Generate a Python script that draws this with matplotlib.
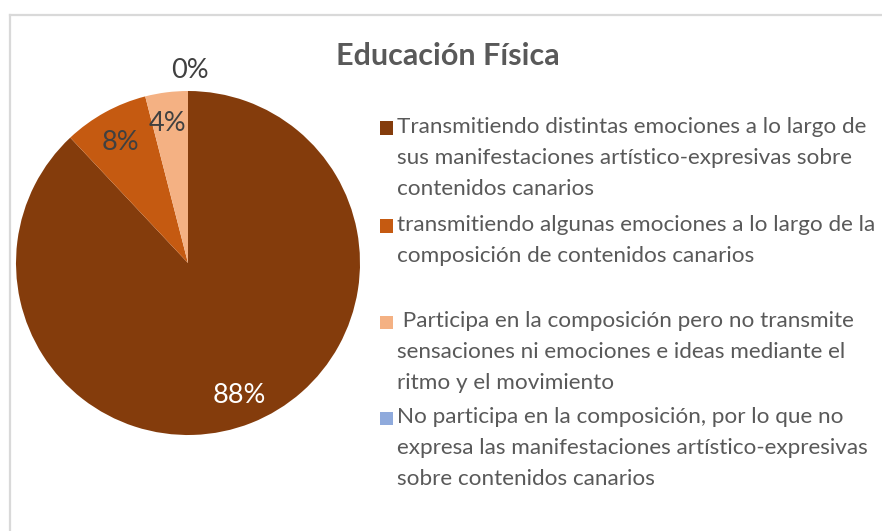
import matplotlib.pyplot as plt
from matplotlib.patches import Rectangle

W, H = 882, 531

title = 'Educación Física'
labels = [
    'Transmitiendo distintas emociones a lo largo de\nsus manifestaciones artístico-expresivas sobre\ncontenidos canarios',
    'transmitiendo algunas emociones a lo largo de la\ncomposición de contenidos canarios',
    ' Participa en la composición pero no transmite\nsensaciones ni emociones e ideas mediante el\nritmo y el movimiento',
    'No participa en la composición, por lo que no\nexpresa las manifestaciones artístico-expresivas\nsobre contenidos canarios',
]
values = [88, 8, 4, 0]
pct_labels = ['88%', '8%', '4%', '0%']
colors = ['#843C0C', '#C55A11', '#F4B183', '#8FAADC']
label_colors = ['white', '#404040', '#404040', '#404040']
text_gray = '#595959'

plt.rcParams['font.family'] = ['Lato', 'DejaVu Sans']

fig = plt.figure(figsize=(W / 100, H / 100), dpi=100)

# chart frame (light gray border, cut off at right/bottom)
fig.add_artist(plt.Line2D([10 / W, 10 / W], [0, 1 - 15 / H], color='#D9D9D9', lw=1.6))
fig.add_artist(plt.Line2D([10 / W, 1], [1 - 15 / H, 1 - 15 / H], color='#D9D9D9', lw=1.6))

# pie: centre ~(188, 263) px, radius ~172 px
cx, cy, r = 188, 263, 172
ax = fig.add_axes([(cx - r) / W, 1 - (cy + r) / H, 2 * r / W, 2 * r / H])
wedges, _ = ax.pie(values, colors=colors, startangle=90, counterclock=False,
                   wedgeprops=dict(linewidth=0))
ax.set_xlim(-1, 1)
ax.set_ylim(-1, 1)
ax.set_aspect('auto')

# data labels
label_pos = [(0.30, -0.77), (-0.39, 0.70), (-0.12, 0.81), (0.01, 1.12)]
for (lx, ly), t, c in zip(label_pos, pct_labels, label_colors):
    ax.text(lx, ly, t, ha='center', va='center', fontsize=19.5, color=c, clip_on=False)

fig.text(448 / W, 1 - 56 / H, title, ha='center', va='center', fontsize=22,
         fontweight='bold', color=text_gray)

# legend, drawn by hand so the marker sits on the first line
first_line_y = [128, 226, 322, 418]
for y, lab, col in zip(first_line_y, labels, colors):
    fig.add_artist(Rectangle((380 / W, 1 - (y + 6.5) / H), 13 / W, 13 / H,
                             facecolor=col, edgecolor='none', transform=fig.transFigure))
    fig.text(397 / W, 1 - (y - 11) / H, lab, ha='left', va='top', fontsize=16.2,
             color=text_gray, linespacing=1.68)

fig.savefig('out.png', dpi=100)
